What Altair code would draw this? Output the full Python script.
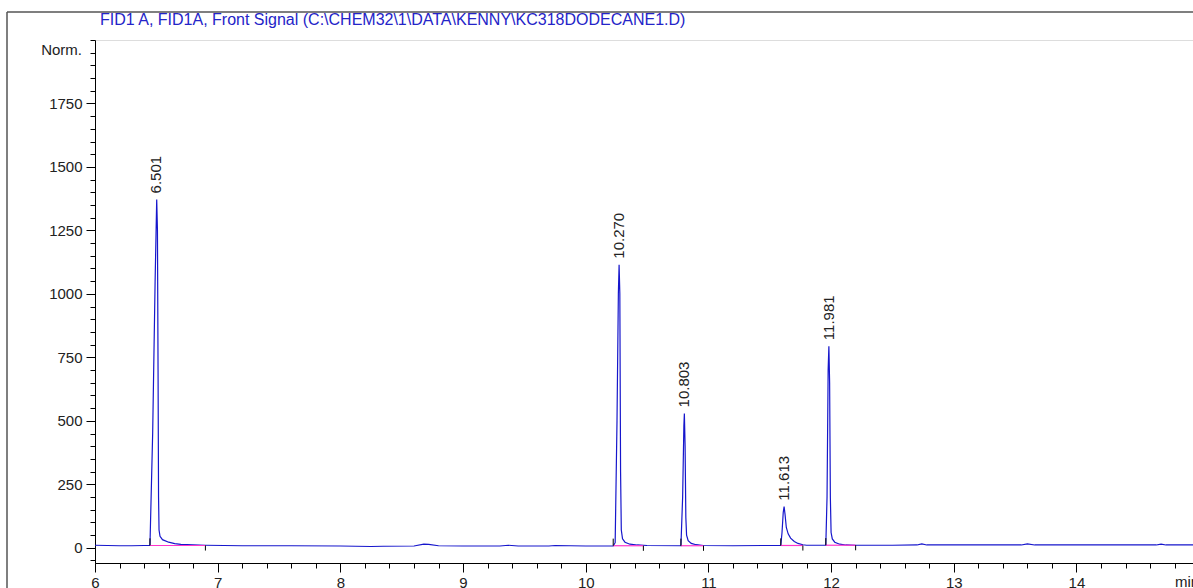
import altair as alt
import pandas as pd

# ---- data ----
TIME = [6.00, 6.10, 6.20, 6.30, 6.40, 6.448,
        6.470, 6.490, 6.503, 6.509, 6.514, 6.518, 6.522, 6.530, 6.550, 6.600, 6.650, 6.700, 6.800, 6.900,
        7.20, 7.60, 8.00, 8.25, 8.35, 8.60, 8.68, 8.72, 8.80, 9.00, 9.30, 9.37, 9.45, 9.70, 9.75, 10.00, 10.224,
        10.240, 10.255, 10.266, 10.272, 10.278, 10.284, 10.290, 10.300, 10.320, 10.360, 10.420, 10.500,
        10.776, 10.790, 10.800, 10.804, 10.810, 10.816, 10.822, 10.835, 10.860, 10.900, 10.960,
        11.20, 11.45, 11.590,
        11.600, 11.610, 11.617, 11.625, 11.635, 11.650, 11.670, 11.700, 11.730, 11.770, 11.800,
        11.957, 11.967, 11.976, 11.982, 11.988, 11.994, 12.000, 12.010, 12.030, 12.070, 12.120, 12.200,
        12.50, 12.70, 12.74, 12.78, 13.00, 13.30, 13.55, 13.60, 13.66, 14.00, 14.40, 14.65, 14.69, 14.73, 14.95]
SIGNAL = [10, 9, 8, 8, 9, 9,
          450, 1050, 1372, 1250, 700, 200, 70, 45, 32, 22, 16, 13, 11, 10,
          8, 8, 7, 5, 6, 7, 14, 13, 8, 7, 7, 10, 7, 7, 9, 7, 7,
          20, 500, 1000, 1115, 1000, 300, 70, 35, 22, 14, 11, 9,
          8, 200, 480, 529, 400, 120, 50, 28, 17, 12, 9,
          8, 9, 9,
          60, 140, 162, 130, 80, 55, 38, 25, 17, 12, 10,
          10, 200, 700, 794, 650, 200, 60, 35, 22, 14, 11, 10,
          10, 11, 15, 11, 11, 11, 11, 15, 11, 11, 11, 11, 14, 11, 11]

PEAK_RT = [6.501, 10.270, 10.803, 11.613, 11.981]
PEAK_TOP = [1372, 1115, 529, 162, 794]
PEAK_LABEL = ["6.501", "10.270", "10.803", "11.613", "11.981"]

INT_START = [6.448, 10.224, 10.776, 11.590, 11.957]
INT_END = [6.900, 10.470, 10.960, 11.770, 12.200]
INT_LEVEL = [9, 8, 8, 9, 10]

Y_MAJOR = [0, 250, 500, 750, 1000, 1250, 1500, 1750]
Y_MINOR = list(range(-50, 2001, 50))
X_MAJOR = [6, 7, 8, 9, 10, 11, 12, 13, 14]
X_MINOR = [round(6 + 0.2 * i, 1) for i in range(45)]

TITLE = "FID1 A, FID1A, Front Signal (C:\\CHEM32\\1\\DATA\\KENNY\\KC318DODECANE1.D)"

W, H = 1098, 523
FONT = "Liberation Sans"
BLUE = "#1616cc"

trace = pd.DataFrame({"t": TIME, "s": SIGNAL})
peaks = pd.DataFrame({"t": PEAK_RT, "s": PEAK_TOP, "label": PEAK_LABEL})
integ = pd.DataFrame({"t1": INT_START, "t2": INT_END, "s": INT_LEVEL})
integ["s_up"] = integ["s"] + 28
integ["s_dn"] = integ["s"] - 20

xs = alt.Scale(domain=[6, 14.95], nice=False, zero=False)
ys = alt.Scale(domain=[-60, 2000], nice=False, zero=False)

x_major = alt.Axis(values=X_MAJOR, orient="bottom", tickSize=9, labelPadding=3, grid=False, title=None,
                   format="d", labelFontSize=15, labelFont=FONT, labelColor="#222",
                   domainColor="black", tickColor="black", labelFlush=False)
x_minor = alt.Axis(values=X_MINOR, orient="bottom", tickSize=5, labels=False, grid=False, title=None,
                   domain=False, tickColor="black")
y_major = alt.Axis(values=Y_MAJOR, orient="left", tickSize=9, labelPadding=4, grid=False, title=None,
                   format="d", labelFontSize=15, labelFont=FONT, labelColor="#222",
                   domainColor="black", tickColor="black")
y_minor = alt.Axis(values=Y_MINOR, orient="left", tickSize=5, labels=False, grid=False, title=None,
                   domain=False, tickColor="black")

line = alt.Chart(trace).mark_line(color=BLUE, strokeWidth=1.2).encode(
    x=alt.X("t:Q", scale=xs, axis=x_major),
    y=alt.Y("s:Q", scale=ys, axis=y_major),
)

base_int = alt.Chart(integ).mark_rule(color="#ff33cc", strokeWidth=1.2).encode(
    x=alt.X("t1:Q", scale=xs, axis=x_minor),
    x2="t2:Q",
    y=alt.Y("s:Q", scale=ys, axis=y_minor),
)
start_ticks = alt.Chart(integ).mark_rule(color="black", strokeWidth=1).encode(
    x=alt.X("t1:Q", scale=xs, axis=None), y=alt.Y("s:Q", scale=ys, axis=None), y2="s_up:Q")
end_ticks = alt.Chart(integ).mark_rule(color="black", strokeWidth=1).encode(
    x=alt.X("t2:Q", scale=xs, axis=None), y=alt.Y("s_dn:Q", scale=ys, axis=None), y2="s:Q")

labels = alt.Chart(peaks).mark_text(angle=270, align="left", baseline="middle", dx=6,
                                    fontSize=15, font=FONT, color="#222").encode(
    x=alt.X("t:Q", scale=xs, axis=None), y=alt.Y("s:Q", scale=ys, axis=None), text="label:N")

one = pd.DataFrame({"k": [0]})
title = alt.Chart(one).mark_text(text=TITLE, align="left", baseline="alphabetic", fontSize=16,
                                 font=FONT, color="#2424c8").encode(x=alt.value(5), y=alt.value(-15))
norm = alt.Chart(one).mark_text(text="Norm.", align="right", baseline="middle", fontSize=15,
                                font=FONT, color="#222").encode(x=alt.value(-13), y=alt.value(10))
minlab = alt.Chart(one).mark_text(text="min", align="left", baseline="alphabetic", fontSize=15,
                                  font=FONT, color="#222").encode(x=alt.value(1080), y=alt.value(H + 24))
frame_left = alt.Chart(one).mark_rule(color="#555555", strokeWidth=1.5).encode(
    x=alt.value(-88), y=alt.value(-28), y2=alt.value(H + 30))
frame_top = alt.Chart(one).mark_rule(color="#555555", strokeWidth=1.5).encode(
    x=alt.value(-88), x2=alt.value(W + 10), y=alt.value(-28))

chart = alt.layer(
    line, base_int, start_ticks, end_ticks, labels, title, norm, minlab, frame_left, frame_top
).resolve_axis(x="independent", y="independent").properties(
    width=W, height=H,
    autosize=alt.AutoSizeParams(type="none"),
    padding={"left": 95, "top": 40, "right": 0, "bottom": 25},
).configure_view(stroke=None).configure(background="white")

chart.save("out.html", embed_options={"renderer": "svg", "actions": False})
